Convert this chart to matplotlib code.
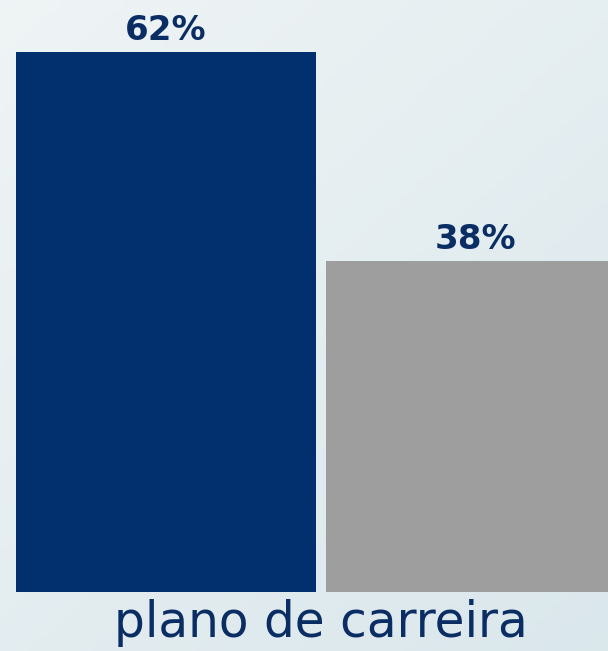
import matplotlib
matplotlib.use("Agg")
import matplotlib.pyplot as plt
import numpy as np

categories = ["sim", "não"]
values = [62, 38]
value_labels = ["62%", "38%"]
bar_colors = ["#02306e", "#9e9e9e"]
axis_label = "plano de carreira"

text_color = "#0a2d63"

fig = plt.figure(figsize=(6.08, 6.51), dpi=100)

# background gradient
bg = fig.add_axes([0, 0, 1, 1], zorder=0)
gx, gy = np.meshgrid(np.linspace(0, 1, 200), np.linspace(0, 1, 200))
t = 0.55 * gy + 0.45 * gx
c0 = np.array([0.937, 0.957, 0.961])
c1 = np.array([0.855, 0.906, 0.925])
img = c0[None, None, :] * (1 - t[..., None]) + c1[None, None, :] * t[..., None]
bg.imshow(img, aspect="auto", extent=[0, 1, 0, 1], origin="upper")
bg.axis("off")

ax = fig.add_axes([0, 59 / 651, 1, 592 / 651], zorder=1)
ax.patch.set_alpha(0)
x = np.arange(len(categories))
ax.bar(x, values, width=300 / 310, color=bar_colors, linewidth=0)
ax.set_xlim(-166 / 310, (608 - 166) / 310)
ax.set_ylim(0, 62 * 592 / 540)

for xi, v, lab in zip(x, values, value_labels):
    ax.annotate(lab, (xi, v), xytext=(0, 8.6), textcoords="offset points",
                ha="center", va="baseline", fontsize=24.5, fontweight="bold",
                color=text_color)

ax.axis("off")

fig.text(0.528, 1 - 637 / 651, axis_label, ha="center", va="baseline",
         fontsize=35, color=text_color)

fig.savefig("out.png", dpi=100)
